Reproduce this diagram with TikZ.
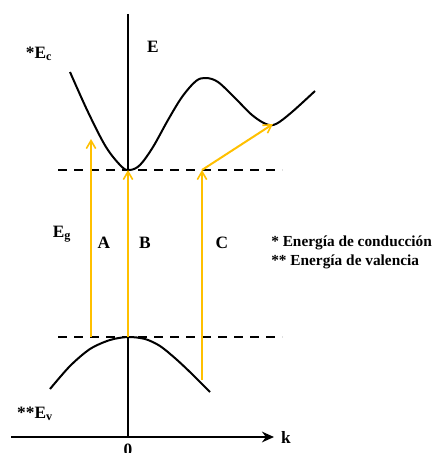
\documentclass[tikz,border=0pt]{standalone}
\usepackage{fontspec}
\setmainfont{Liberation Serif}
\usetikzlibrary{arrows.meta}
\definecolor{amber}{HTML}{FFC000}
\begin{document}
\begin{tikzpicture}[x=0.75pt,y=-0.75pt,
  band/.style={line width=1.5pt,line join=round},
  gapline/.style={line width=1.5pt,dash pattern=on 7pt off 5pt},
  trans/.style={draw=amber,line width=1.5pt,-{Straight Barb[length=6pt,width=7pt,line width=1.2pt]}},
  lbl/.style={font=\bfseries\fontsize{13}{15}\selectfont,inner sep=0pt},
  legend/.style={font=\bfseries\fontsize{11.5}{13}\selectfont,inner sep=0pt,anchor=west}]
\useasboundingbox (0,0) rectangle (436,453);
% axes
\coordinate (ytop) at (128,14);
\coordinate (origin) at (128,437);
\coordinate (xleft) at (11,437);
\coordinate (xright) at (274,437);
\draw[line width=1.5pt] (ytop) -- (origin);
\draw[line width=1.5pt,-{Stealth[length=9pt,width=8pt]}] (xleft) -- (xright);
% dashed levels
\coordinate (cbL) at (58,170); \coordinate (cbR) at (282,170);
\coordinate (vbL) at (58,337); \coordinate (vbR) at (282,337);
\draw[gapline] (cbL) -- (cbR);
\draw[gapline] (vbL) -- (vbR);
% conduction band
\draw[band] plot[smooth,tension=0.55] coordinates {(70,72) (88,112) (106,147) (122,167) (130,170) (140,165) (153,147) (168,120) (182,97) (196,81) (206,78) (218,82) (235,98) (252,115) (266,124) (276,124) (292,112) (315,91)};
% valence band
\draw[band] plot[smooth,tension=0.5] coordinates {(50,389) (70,366) (90,349) (110,340) (128,337) (145,339) (160,346) (176,359) (192,374) (210,392)};
% transitions
\coordinate (aS) at (91,337); \coordinate (aE) at (91,139);
\coordinate (bS) at (128,337); \coordinate (bE) at (128,170);
\coordinate (cS) at (202,380); \coordinate (cM) at (202,170);
\coordinate (cE) at (273,124);
\draw[trans] (aS) -- (aE);
\draw[trans] (bS) -- (bE);
\draw[trans] (cS) -- (cM);
\draw[trans] (cM) -- (cE);
% labels
\node[lbl] (E) at (153,47) {E};
\node[lbl] (Ec) at (39,54) {*E\textsubscript{c}};
\node[lbl] (Eg) at (62,234) {E\textsubscript{g}};
\node[lbl] (A) at (104,243) {A};
\node[lbl] (B) at (145,243) {B};
\node[lbl] (C) at (222,243) {C};
\node[lbl] (Ev) at (35,414) {**E\textsubscript{v}};
\node[lbl] (k) at (286,437) {k};
\node[lbl] (zero) at (128,450) {0};
\node[legend] (l1) at (271,243) {* Energía de conducción};
\node[legend] (l2) at (271,262) {** Energía de valencia};
\end{tikzpicture}
\end{document}
